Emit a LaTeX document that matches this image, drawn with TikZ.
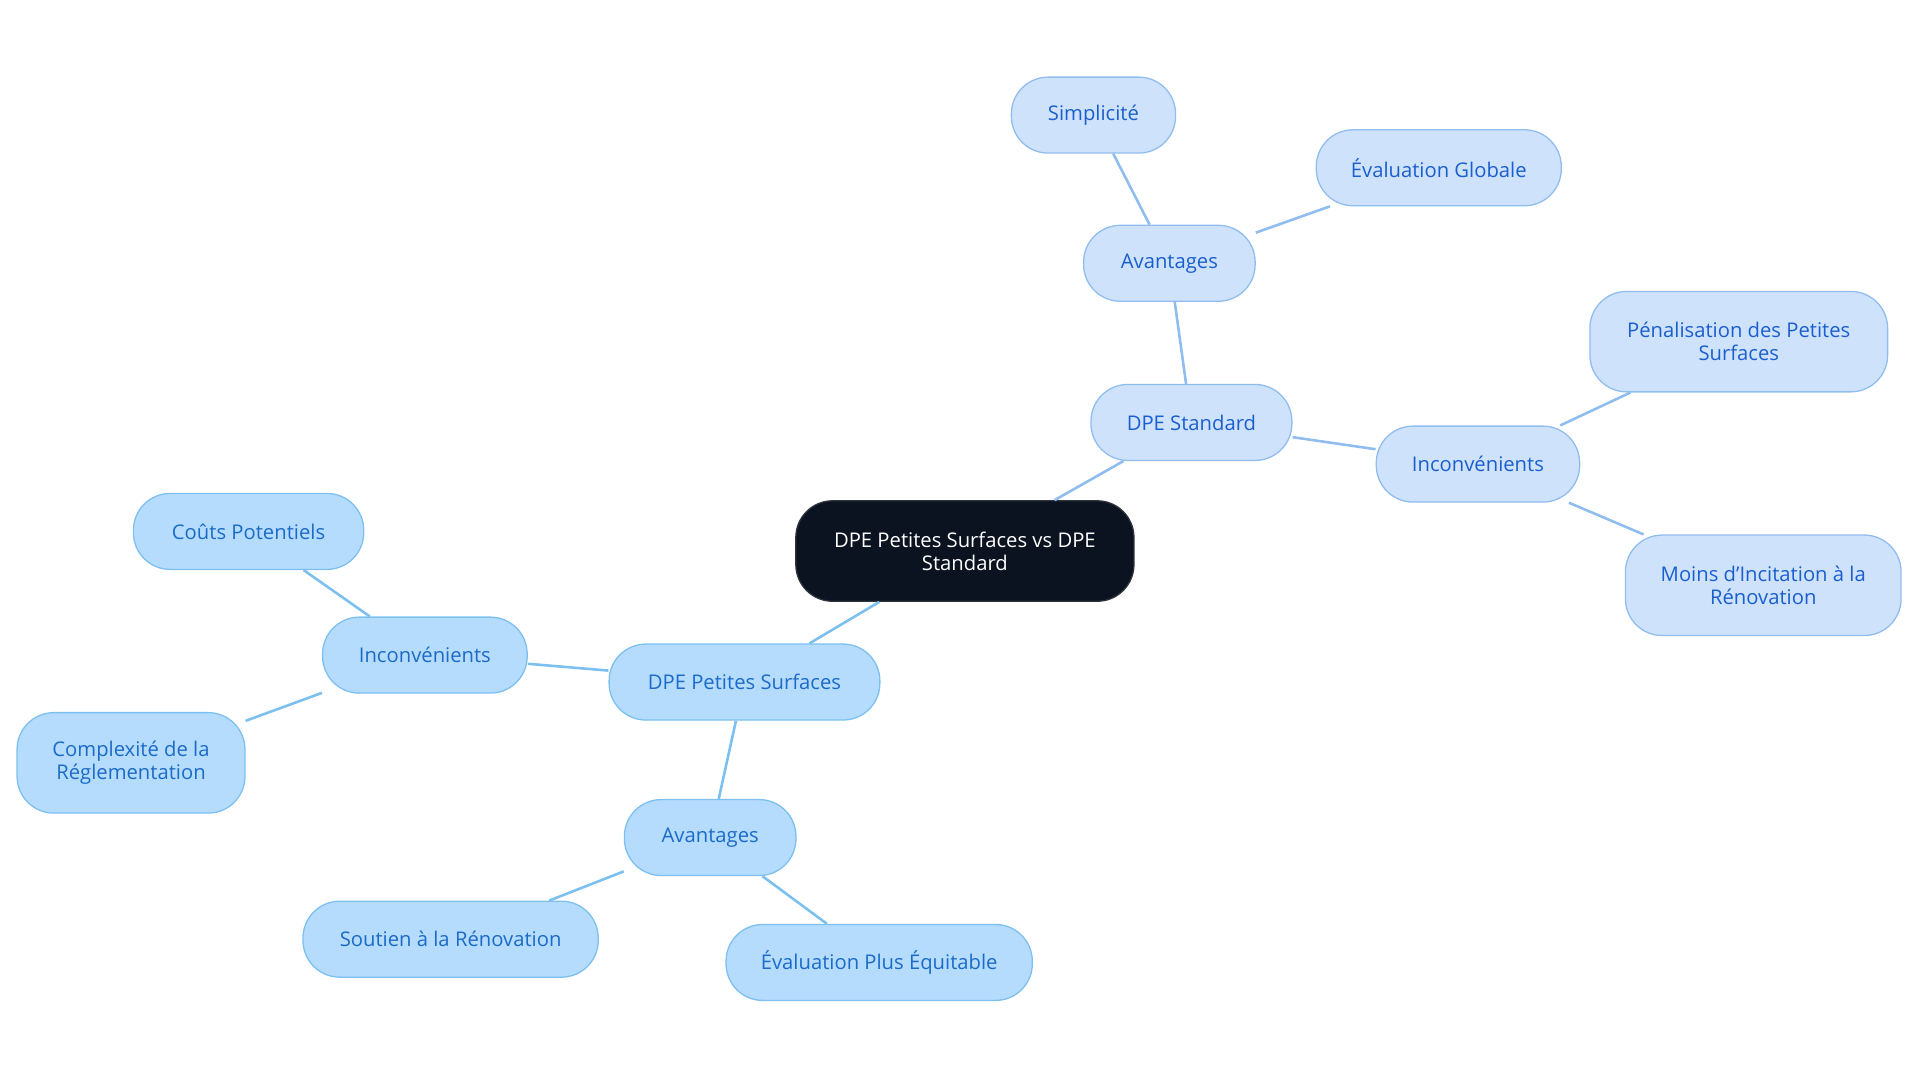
\documentclass[tikz,border=0pt]{standalone}
\usepackage{fontspec}
\setmainfont{Open Sans}
\definecolor{rootfill}{HTML}{0B1320}
\definecolor{rfill}{HTML}{CFE2FB}
\definecolor{rline}{HTML}{90BDF0}
\definecolor{rtext}{HTML}{1A5FCF}
\definecolor{lfill}{HTML}{B5DCFD}
\definecolor{lline}{HTML}{7CC0F0}
\definecolor{ltext}{HTML}{1B6BC8}
\begin{document}
\begin{tikzpicture}[x=0.01cm,y=-0.01cm]
    \tikzset{every node/.style={inner sep=0pt, align=center, font=\fontsize{4.7}{5.4}\selectfont},
      root/.style={fill=rootfill, draw=rootfill!70!gray, text=white, rounded corners=0.3cm, line width=0.3pt},
      rnode/.style={fill=rfill, draw=rline, text=rtext, rounded corners=0.3cm, line width=0.3pt},
      lnode/.style={fill=lfill, draw=lline, text=ltext, rounded corners=0.3cm, line width=0.3pt},
      redge/.style={draw=rline, line width=0.6pt},
      ledge/.style={draw=lline, line width=0.6pt}}
    \useasboundingbox (0,0) rectangle (1568,884);
    % centre
    \node [root, minimum width=2.76cm, minimum height=0.82cm] (dpe) at (788,450) {DPE Petites Surfaces vs DPE\\Standard};
    % right branch
    \node [rnode, minimum width=1.64cm, minimum height=0.62cm] (std) at (973,345) {DPE Standard};
    \node [rnode, minimum width=1.40cm, minimum height=0.62cm] (stdav) at (955,215) {Avantages};
    \node [rnode, minimum width=1.34cm, minimum height=0.62cm] (simp) at (893,94) {Simplicité};
    \node [rnode, minimum width=2.00cm, minimum height=0.62cm] (glob) at (1175,137) {Évaluation Globale};
    \node [rnode, minimum width=1.66cm, minimum height=0.62cm] (stdinc) at (1207,379) {Inconvénients};
    \node [rnode, minimum width=2.43cm, minimum height=0.82cm] (pen) at (1420,279) {Pénalisation des Petites\\Surfaces};
    \node [rnode, minimum width=2.25cm, minimum height=0.82cm] (moins) at (1440,478) {Moins d'Incitation à la\\Rénovation};
    % left branch
    \node [lnode, minimum width=2.21cm, minimum height=0.62cm] (pet) at (608,557) {DPE Petites Surfaces};
    \node [lnode, minimum width=1.67cm, minimum height=0.62cm] (petinc) at (347,535) {Inconvénients};
    \node [lnode, minimum width=1.88cm, minimum height=0.62cm] (couts) at (203,434) {Coûts Potentiels};
    \node [lnode, minimum width=1.86cm, minimum height=0.82cm] (compl) at (107,623) {Complexité de la\\Réglementation};
    \node [lnode, minimum width=1.40cm, minimum height=0.62cm] (petav) at (580,684) {Avantages};
    \node [lnode, minimum width=2.41cm, minimum height=0.62cm] (sout) at (368,767) {Soutien à la Rénovation};
    \node [lnode, minimum width=2.50cm, minimum height=0.62cm] (equi) at (718,786) {Évaluation Plus Équitable};
    % edges
    \begin{scope}[on background layer/.style={}]
    \draw [redge] (dpe) -- (std);
    \draw [redge] (std) -- (stdav);
    \draw [redge] (stdav) -- (simp);
    \draw [redge] (stdav) -- (glob);
    \draw [redge] (std) -- (stdinc);
    \draw [redge] (stdinc) -- (pen);
    \draw [redge] (stdinc) -- (moins);
    \draw [ledge] (dpe) -- (pet);
    \draw [ledge] (pet) -- (petinc);
    \draw [ledge] (petinc) -- (couts);
    \draw [ledge] (petinc) -- (compl);
    \draw [ledge] (pet) -- (petav);
    \draw [ledge] (petav) -- (sout);
    \draw [ledge] (petav) -- (equi);
    \end{scope}
\end{tikzpicture}
\end{document}
